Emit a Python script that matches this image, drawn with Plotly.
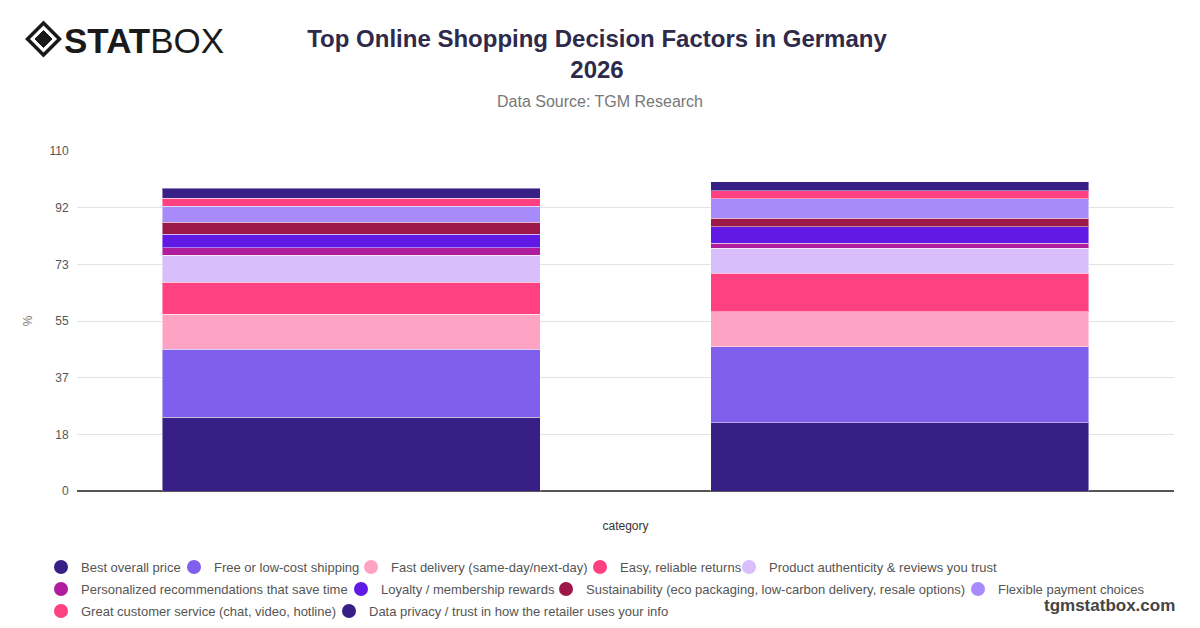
import plotly.graph_objects as go

# data
categories = ["Group A", "Group B"]

factors = [
    "Best overall price",
    "Free or low-cost shipping",
    "Fast delivery (same-day/next-day)",
    "Easy, reliable returns",
    "Product authenticity & reviews you trust",
    "Personalized recommendations that save time",
    "Loyalty / membership rewards",
    "Sustainability (eco packaging, low-carbon delivery, resale options)",
    "Flexible payment choices",
    "Great customer service (chat, video, hotline)",
    "Data privacy / trust in how the retailer uses your info",
]

best_price = [23.8, 22.1]
free_shipping = [22.0, 24.5]
fast_delivery = [11.4, 11.4]
easy_returns = [10.4, 12.4]
authenticity = [8.6, 8.1]
personalized = [2.5, 1.6]
loyalty = [4.3, 5.4]
sustainability = [3.9, 2.7]
flexible_payment = [5.3, 6.3]
customer_service = [2.5, 2.6]
data_privacy = [3.2, 2.9]

series = [best_price, free_shipping, fast_delivery, easy_returns, authenticity,
          personalized, loyalty, sustainability, flexible_payment,
          customer_service, data_privacy]

colors = ["#371F85", "#7F5FEB", "#FFA3C4", "#FF4081", "#D8BEFA", "#B01C9E",
          "#6119E6", "#9C1849", "#A78BFA", "#FF4081", "#371F85"]

y_tickvals = [0, 110 / 6, 220 / 6, 55, 440 / 6, 550 / 6, 110]
y_ticktext = ["0", "18", "37", "55", "73", "92", "110"]

W, H = 1200, 628
ML, MR, MT, MB = 77, 26, 151, 137
PW, PH = W - ML - MR, H - MT - MB


def px(x):
    return (x - ML) / PW


def py(y):
    return (H - MB - y) / PH


# legend entry placement (marker centre x, row y) in pixels, one legend per entry
legend_spots = [(63, 567), (196, 567), (373, 567), (602, 567), (751, 567),
                (63, 589), (363, 589), (568, 589), (980, 589),
                (63, 611), (351, 611)]

fig = go.Figure()

legend_layout = {}
for i, (name, vals, col) in enumerate(zip(factors, series, colors)):
    lg = "legend" if i == 0 else "legend%d" % (i + 1)
    fig.add_trace(go.Bar(
        x=categories, y=vals, name=name,
        marker=dict(color=col, line=dict(color="rgba(255,255,255,0.45)", width=1)),
        showlegend=False, legendgroup=name,
    ))
    # legend entry with round marker
    fig.add_trace(go.Scatter(
        x=[None], y=[None], mode="markers", name=name, legendgroup=name,
        legend=lg, marker=dict(color=col, size=14, symbol="circle"),
    ))
    mx, my = legend_spots[i]
    legend_layout[lg] = dict(
        orientation="h", xanchor="left", yanchor="middle",
        x=px(mx - 22), y=py(my),
        font=dict(size=13, color="#555"), itemsizing="trace",
        bgcolor="rgba(0,0,0,0)",
    )

fig.update_layout(
    width=W, height=H,
    barmode="stack", bargap=0.31,
    plot_bgcolor="white", paper_bgcolor="white",
    margin=dict(l=ML, r=MR, t=MT, b=MB, autoexpand=False),
    font=dict(family="Liberation Sans, Arial, sans-serif", color="#444"),
    title=dict(
        text="<b>Top Online Shopping Decision Factors in Germany<br>2026</b>",
        x=0.4975, xanchor="center", y=0.925, yanchor="top",
        font=dict(size=24, color="#2E2A4A", family="Liberation Sans, Arial, sans-serif"),
    ),
    xaxis=dict(
        showticklabels=False, showgrid=False, ticks="",
        title=dict(text="category", font=dict(size=12, color="#333"), standoff=30),
    ),
    yaxis=dict(
        range=[0, 110], tickvals=y_tickvals, ticktext=y_ticktext,
        showgrid=True, gridcolor="#E3E3E3", gridwidth=1,
        zeroline=True, zerolinecolor="#555", zerolinewidth=1.5,
        ticks="outside", ticklen=5, tickcolor="rgba(0,0,0,0)",
        tickfont=dict(size=12, color="#555"),
        title=dict(text="%", font=dict(size=12, color="#777"), standoff=14),
        showline=False,
    ),
    **legend_layout,
)

fig.add_annotation(
    text="Data Source: TGM Research", xref="paper", yref="paper",
    x=px(600), y=py(101), xanchor="center", yanchor="middle", showarrow=False,
    font=dict(size=16, color="#777"),
)

fig.add_annotation(
    text="<b>tgmstatbox.com</b>", xref="paper", yref="paper",
    x=px(1177), y=py(605), xanchor="right", yanchor="middle", showarrow=False,
    font=dict(size=17, color="#444", family="Liberation Sans, Arial, sans-serif"),
)

# logo: diamond mark + wordmark
cx, cy, r = 43.5, 39, 16
outer = "M {} {} L {} {} L {} {} L {} {} Z".format(
    px(cx), py(cy - r), px(cx + r), py(cy), px(cx), py(cy + r), px(cx - r), py(cy))
ri = 8.5
inner = "M {} {} L {} {} L {} {} L {} {} Z".format(
    px(cx), py(cy - ri), px(cx + ri), py(cy), px(cx), py(cy + ri), px(cx - ri), py(cy))
fig.add_shape(type="path", path=outer, xref="paper", yref="paper",
              line=dict(color="#1a1a1a", width=3.5), fillcolor="rgba(0,0,0,0)")
fig.add_shape(type="path", path=inner, xref="paper", yref="paper",
              line=dict(color="#1a1a1a", width=1), fillcolor="#1a1a1a")

fig.add_annotation(
    text="<b>STAT</b>BOX", xref="paper", yref="paper",
    x=px(62), y=py(40), xanchor="left", yanchor="middle", showarrow=False,
    font=dict(size=35, color="#1a1a1a", family="Liberation Sans, Arial, sans-serif"),
)

fig.write_html("out.html", config={"displayModeBar": False},
               post_script="document.body.style.margin='0';")
